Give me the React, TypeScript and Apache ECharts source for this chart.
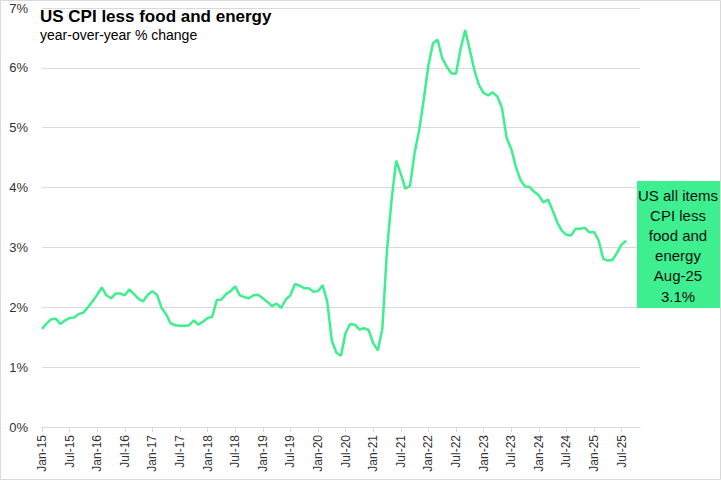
import React, { useEffect, useRef } from "react";
import * as echarts from "echarts";

const TITLE = "US CPI less food and energy";
const SUBTITLE = "year-over-year % change";
const SERIES_NAME = "US all items CPI less food and energy";

const YEARS = [15, 16, 17, 18, 19, 20, 21, 22, 23, 24, 25];
const MONTHS = ["Jan", "Feb", "Mar", "Apr", "May", "Jun", "Jul", "Aug", "Sep", "Oct", "Nov", "Dec"];
// monthly categories Jan-15 .. Nov-25 (axis runs a little past the last data point)
const categories: string[] = [];
YEARS.forEach((y) => MONTHS.forEach((m) => categories.push(`${m}-${y}`)));
categories.splice(131);

// year-over-year % change, Jan-15 .. Aug-25
const values2015 = [1.64, 1.73, 1.8, 1.81, 1.72, 1.78, 1.82, 1.83, 1.89, 1.91, 2.0, 2.1];
const values2016 = [2.21, 2.33, 2.2, 2.15, 2.23, 2.23, 2.2, 2.3, 2.22, 2.14, 2.1, 2.21];
const values2017 = [2.27, 2.21, 1.99, 1.88, 1.73, 1.7, 1.69, 1.69, 1.7, 1.78, 1.71, 1.76];
const values2018 = [1.82, 1.84, 2.12, 2.13, 2.22, 2.27, 2.35, 2.2, 2.17, 2.15, 2.2, 2.21];
const values2019 = [2.15, 2.09, 2.02, 2.06, 1.99, 2.13, 2.2, 2.39, 2.36, 2.32, 2.32, 2.26];
const values2020 = [2.27, 2.37, 2.1, 1.44, 1.24, 1.19, 1.57, 1.72, 1.71, 1.63, 1.65, 1.62];
const values2021 = [1.4, 1.28, 1.65, 2.96, 3.8, 4.45, 4.23, 3.98, 4.03, 4.58, 4.96, 5.48];
const values2022 = [6.04, 6.41, 6.47, 6.16, 6.02, 5.91, 5.9, 6.32, 6.63, 6.3, 5.96, 5.71];
const values2023 = [5.58, 5.54, 5.59, 5.52, 5.33, 4.83, 4.65, 4.35, 4.13, 4.02, 4.01, 3.93];
const values2024 = [3.87, 3.75, 3.8, 3.62, 3.42, 3.28, 3.21, 3.2, 3.31, 3.31, 3.33, 3.25];
const values2025 = [3.26, 3.12, 2.81, 2.78, 2.79, 2.91, 3.05, 3.11];

const values: number[] = [
  ...values2015, ...values2016, ...values2017, ...values2018, ...values2019, ...values2020,
  ...values2021, ...values2022, ...values2023, ...values2024, ...values2025,
];

const Y_MIN = 0;
const Y_MAX = 7;
const Y_INTERVAL = 1;

const GREEN = "#3DEF8E";
const GRID_COLOR = "#d9d9d9";
const FONT = "'Liberation Sans', Arial, sans-serif";

export default function App() {
  const ref = useRef<HTMLDivElement>(null);

  useEffect(() => {
    if (!ref.current) return;
    const chart = echarts.init(ref.current, undefined, { renderer: "svg" });
    const lastIdx = values.length - 1;
    const boxText = `US all items\nCPI less\nfood and\nenergy\n${categories[lastIdx]}\n${values[lastIdx].toFixed(1)}%`;

    chart.setOption({
      animation: false,
      backgroundColor: "#ffffff",
      title: {
        text: TITLE,
        subtext: SUBTITLE,
        left: 40,
        top: 8,
        padding: 0,
        itemGap: 3,
        textStyle: { fontFamily: FONT, fontSize: 17, fontWeight: "bold", color: "#000" },
        subtextStyle: { fontFamily: FONT, fontSize: 14, color: "#000" },
      },
      grid: { left: 42, right: 81, top: 8, bottom: 53, containLabel: false },
      xAxis: {
        type: "category",
        data: categories,
        boundaryGap: false,
        axisLine: { show: true, lineStyle: { color: GRID_COLOR, width: 1 } },
        axisTick: {
          show: true,
          length: 5,
          interval: (i: number) => i % 6 === 0,
          lineStyle: { color: GRID_COLOR },
        },
        axisLabel: {
          interval: (i: number) => i % 6 === 0,
          rotate: 90,
          margin: 8,
          fontFamily: FONT,
          fontSize: 12,
          color: "#333",
        },
        splitLine: { show: false },
      },
      yAxis: {
        type: "value",
        min: Y_MIN,
        max: Y_MAX,
        interval: Y_INTERVAL,
        axisLine: { show: false },
        axisTick: { show: false },
        axisLabel: {
          formatter: (v: number) => `${v}%`,
          fontFamily: FONT,
          fontSize: 13,
          color: "#333",
          margin: 14,
        },
        splitLine: { show: true, lineStyle: { color: GRID_COLOR, width: 1 } },
      },
      series: [
        {
          name: SERIES_NAME,
          type: "line",
          data: values,
          showSymbol: false,
          symbol: "none",
          lineStyle: { color: GREEN, width: 2.5 },
          z: 3,
        },
      ],
      graphic: [
        {
          type: "rect",
          shape: { x: 0.5, y: 0.5, width: 720, height: 479 },
          style: { fill: "none", stroke: GRID_COLOR, lineWidth: 1 },
          silent: true,
          z: 10,
        },
        {
          type: "rect",
          shape: { x: 637, y: 181, width: 83, height: 127 },
          style: { fill: GREEN },
          z: 10,
        },
        {
          type: "text",
          x: 678,
          y: 185,
          style: {
            text: boxText,
            fill: "#111",
            font: `15px ${FONT}`,
            fontFamily: FONT,
            fontSize: 15,
            lineHeight: 20.2,
            align: "center",
            verticalAlign: "top",
          },
          z: 11,
        },
      ],
    });

    return () => chart.dispose();
  }, []);

  return (
    <div
      ref={ref}
      style={{ position: "fixed", left: 0, top: 0, width: 721, height: 480 }}
    />
  );
}
